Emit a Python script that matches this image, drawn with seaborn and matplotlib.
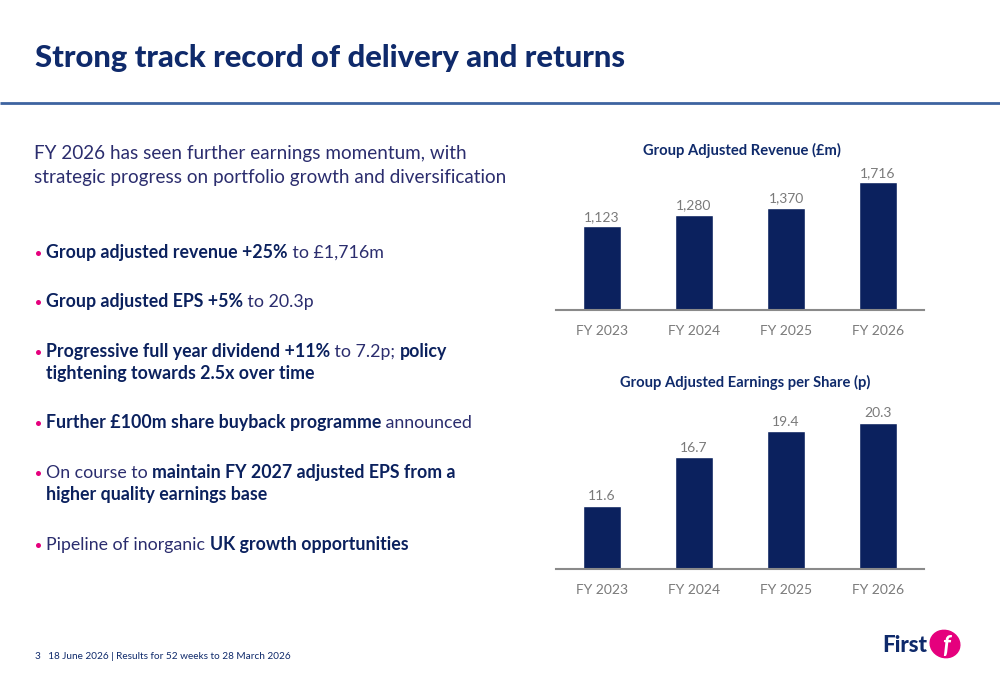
import numpy as np
import pandas as pd
import seaborn as sns
import matplotlib.pyplot as plt
from matplotlib.patches import Ellipse

# data
years = ['FY 2023', 'FY 2024', 'FY 2025', 'FY 2026']
revenue = [1123, 1280, 1370, 1716]          # Group adjusted revenue (£m)
eps = [11.6, 16.7, 19.4, 20.3]              # Group adjusted EPS (p)
revenue_labels = ['1,123', '1,280', '1,370', '1,716']
eps_labels = ['11.6', '16.7', '19.4', '20.3']

navy = '#0b215e'
title_navy = '#0f2a6b'
text_navy = '#2b2d6e'
pink = '#e5007d'
grey = '#7a7a7a'

sns.set_theme(style='white')
plt.rcParams['font.family'] = ['Lato', 'DejaVu Sans']

fig = plt.figure(figsize=(10, 6.85), dpi=100)

# background axes in pixel coordinates for all slide text
bg = fig.add_axes([0, 0, 1, 1])
bg.set_xlim(0, 1000)
bg.set_ylim(685, 0)
bg.axis('off')

bg.text(35, 67, 'Strong track record of delivery and returns', fontsize=22.3,
        fontweight='black', color=title_navy, va='baseline', ha='left')
bg.plot([0, 1000], [103, 103], color='#3d63a0', lw=2, solid_capstyle='butt')


def rich_line(x, y, segments, size=12.8):
    # draw text segments one after another on a shared baseline
    t = None
    for s, bold in segments:
        w = 'bold' if bold else 'normal'
        c = navy if bold else text_navy
        if t is None:
            t = bg.text(x, y, s, fontsize=size, fontweight=w, color=c, va='baseline', ha='left')
        else:
            t = bg.annotate(s, xy=(1, 0), xycoords=t, fontsize=size, fontweight=w,
                            color=c, va='bottom', ha='left')
    return t


rich_line(34, 159, [('FY 2026 has seen further earnings momentum, with', False)], size=13.6)
rich_line(34, 183, [('strategic progress on portfolio growth and diversification', False)], size=13.6)

bullets = [
    (258, [('Group adjusted revenue +25%', True), (' to £1,716m', False)]),
    (307, [('Group adjusted EPS +5%', True), (' to 20.3p', False)]),
    (357, [('Progressive full year dividend +11%', True), (' to 7.2p; ', False), ('policy', True)]),
    (428, [('Further £100m share buyback programme', True), (' announced', False)]),
    (478, [('On course to ', False), ('maintain FY 2027 adjusted EPS from a', True)]),
    (550, [('Pipeline of inorganic ', False), ('UK growth opportunities', True)]),
]
for y, segs in bullets:
    bg.plot(37.5, y - 5, 'o', ms=3.6, color=pink, mew=0)
    rich_line(46, y, segs)
rich_line(46, 379, [('tightening towards 2.5x over time', True)])
rich_line(46, 500, [('higher quality earnings base', True)])

# footer
bg.text(35, 659, '3   18 June 2026 | Results for 52 weeks to 28 March 2026', fontsize=7.2,
        color=title_navy, va='baseline', ha='left')
bg.text(927, 652, 'First', fontsize=16, fontweight='black', color=title_navy,
        va='baseline', ha='right')
bg.add_patch(Ellipse((945, 644), 30, 27, angle=20, color=pink))
bg.text(946, 645, 'f', fontsize=17, fontweight='bold', fontstyle='italic', color='white',
        va='center', ha='center')


def bar_panel(rect, values, labels, ylim):
    ax = fig.add_axes(rect)
    df = pd.DataFrame({'year': years, 'value': values})
    sns.barplot(data=df, x='year', y='value', ax=ax, color=navy, saturation=1, width=0.41)
    ax.bar_label(ax.containers[0], labels=labels, padding=2.5, fontsize=10, color=grey)
    ax.set_xlim(-0.5, 3.5)
    ax.set_ylim(*ylim)
    ax.set_xlabel('')
    ax.set_ylabel('')
    ax.set_yticks([])
    ax.tick_params(axis='x', length=0, pad=11, labelsize=10, labelcolor=grey)
    for side in ['top', 'right', 'left']:
        ax.spines[side].set_visible(False)
    ax.spines['bottom'].set_color('#8a8a8a')
    ax.spines['bottom'].set_linewidth(1.5)
    ax.set_facecolor('none')
    return ax


# revenue panel: axes bottom at y=310 px, top at 161 px
ax1 = bar_panel([0.556, 1 - 310 / 685, 0.368, 149 / 685], revenue, revenue_labels, (0, 2000))
bg.text(742, 155, 'Group Adjusted Revenue (£m)', fontsize=10.6, fontweight='bold',
        color=title_navy, ha='center', va='baseline')

# EPS panel: axes bottom at 569 px, baseline value 5p
ax2 = bar_panel([0.556, 1 - 569 / 685, 0.368, 172 / 685], eps, eps_labels, (5, 23))
bg.text(745, 387, 'Group Adjusted Earnings per Share (p)', fontsize=10.6, fontweight='bold',
        color=title_navy, ha='center', va='baseline')

fig.savefig('out.png', dpi=100)
